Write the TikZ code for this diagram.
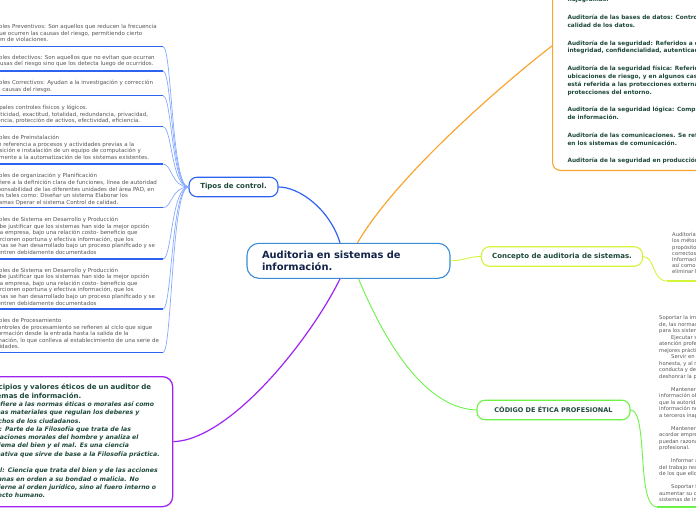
\documentclass[tikz,border=0pt]{standalone}
\usepackage{fontspec}
\setmainfont{DejaVu Sans}
\usepackage{xcolor}
\definecolor{inkgreen}{HTML}{1F4A3A}
\definecolor{inknavy}{HTML}{15244A}
\definecolor{inkgray}{HTML}{555555}
\definecolor{rootblue}{HTML}{3A8BD8}
\definecolor{ctrlblue}{HTML}{2E62F0}
\definecolor{twigblue}{HTML}{86A9FF}
\definecolor{auditorange}{HTML}{F8A531}
\definecolor{conceptlime}{HTML}{D2F53C}
\definecolor{ethicgreen}{HTML}{6DF248}
\definecolor{valuepurple}{HTML}{9F24F2}
\usepackage{tikz}
\usetikzlibrary{positioning, calc}

\begin{document}
\begin{tikzpicture}[
        x=1pt, y=-1pt,
        root/.style={rectangle, rounded corners=12pt, draw=rootblue, line width=1.1pt, fill=white, text width=173pt, inner xsep=15pt, minimum height=35pt, align=left, text=inknavy, font=\fontsize{9.9}{12.3}\selectfont\bfseries},
        topic/.style={rectangle, rounded corners=8pt, line width=1.1pt, fill=white, minimum height=19.5pt, inner sep=0pt, text=inkgreen, font=\fontsize{7}{8}\selectfont\bfseries},
        note/.style={anchor=north west, inner sep=0pt, align=left, text=inkgray, font=\fontsize{5.5}{6.6}\selectfont},
        branch/.style={line width=1.2pt},
        twig/.style={line width=0.7pt},
        underline/.style={line width=1.4pt}
    ]
    \useasboundingbox (0,0) rectangle (696,520);
    \clip (0,0) rectangle (696,520);

    % main topics
    \node [root] (root) at (348.5,260.8) {Auditoria en sistemas de\\información.};
    \node [topic, draw=ctrlblue, minimum width=89pt] (tipos) at (233.5,187) {Tipos de control.};
    \node [topic, draw=conceptlime, minimum width=161pt] (concepto) at (562,256.5) {Concepto de auditoria de sistemas.};
    \node [topic, draw=ethicgreen, minimum width=153pt, font=\fontsize{6.5}{8}\selectfont\bfseries] (codigo) at (553.5,410) {CÓDIGO DE ÉTICA PROFESIONAL};

    \node [rectangle, rounded corners=8pt, draw=auditorange, line width=1.1pt, fill=white, anchor=south west, align=left, inner xsep=15pt, inner ysep=6.5pt, text=inkgreen, font=\fontsize{5.8}{7.85}\selectfont\bfseries] (audits) at (552,171) {flujogramas.\\[9.8pt]
        Auditoría de las bases de datos: Controles de acceso, de actualización, de integridad y\\
        calidad de los datos.\\[9.8pt]
        Auditoría de la seguridad: Referidos a datos e información verificando disponibilidad,\\
        integridad, confidencialidad, autenticación y no repudio.\\[9.8pt]
        Auditoría de la seguridad física: Referido a la ubicación de la organización, evitando\\
        ubicaciones de riesgo, y en algunos casos no revelando la situación física de esta.\\
        está referida a las protecciones externas (arcos de seguridad, CCTV, vigilantes) y\\
        protecciones del entorno.\\[9.8pt]
        Auditoría de la seguridad lógica: Comprende los métodos de autenticación de los sistemas\\
        de información.\\[9.8pt]
        Auditoría de las comunicaciones. Se refiere a la auditoría de los procesos de autenticación\\
        en los sistemas de comunicación.\\[9.8pt]
        Auditoría de la seguridad en producción: Frente a errores, accidentes y fraudes.};

    \node [rectangle, rounded corners=10pt, draw=valuepurple, line width=1.3pt, fill=white, anchor=north east, text width=187pt, inner xsep=3pt, inner ysep=3pt, minimum height=130pt, align=left, text=inkgreen, font=\fontsize{6.15}{8.3}\selectfont\bfseries\itshape] (ethics) at (173.3,376) {{\fontsize{7}{8.3}\selectfont\upshape Principios y valores éticos de un auditor de}\\
        {\fontsize{7}{8.3}\selectfont\upshape sistemas de información.}\\
        Se refiere a las normas éticas o morales así como\\
        normas materiales que regulan los deberes y\\
        derechos de los ciudadanos.\\
        Ética: Parte de la Filosofía que trata de las\\
        obligaciones morales del hombre y analiza el\\
        problema del bien y el mal. Es una ciencia\\
        normativa que sirve de base a la Filosofía práctica.\\[8.3pt]
        Moral: Ciencia que trata del bien y de las acciones\\
        humanas en orden a su bondad o malicia. No\\
        concierne al orden jurídico, sino al fuero interno o\\
        respecto humano.};

    % tipos de control
    \node [note] (preventivos) at (-16,24.2) {Controles Preventivos: Son aquellos que reducen la frecuencia\\con que ocurren las causas del riesgo, permitiendo cierto\\margen de violaciones.};
    \node [note] (detectivos) at (-16,54.8) {Controles detectivos: Son aquellos que no evitan que ocurran\\las causas del riesgo sino que los detecta luego de ocurridos.};
    \node [note] (correctivos) at (-16,79.8) {Controles Correctivos: Ayudan a la investigación y corrección\\de las causas del riesgo.};
    \node [note] (fisicos) at (-16,104.8) {Principales controles físicos y lógicos.\\Autenticidad, exactitud, totalidad, redundancia, privacidad,\\Existencia, protección de activos, efectividad, eficiencia.};
    \node [note] (preinst) at (-16,134.8) {Controles de Preinstalación\\Hacen referencia a procesos y actividades previas a la\\adquisición e instalación de un equipo de computación y\\obviamente a la automatización de los sistemas existentes.};
    \node [note] (organiz) at (-16,173.2) {Controles de organización y Planificación\\Se refiere a la definición clara de funciones, línea de autoridad\\y responsabilidad de las diferentes unidades del área PAD, en\\labores tales como: Diseñar un sistema Elaborar los\\programas Operar el sistema Control de calidad.};
    \node [note] (desarrollo) at (-16,216.8) {Controles de Sistema en Desarrollo y Producción\\Se debe justificar que los sistemas han sido la mejor opción\\para la empresa, bajo una relación costo- beneficio que\\proporcionen oportuna y efectiva información, que los\\sistemas se han desarrollado bajo un proceso planificado y se\\encuentren debidamente documentados};
    \node [note] (produccion) at (-16,267.5) {Controles de Sistema en Desarrollo y Producción\\Se debe justificar que los sistemas han sido la mejor opción\\para la empresa, bajo una relación costo- beneficio que\\proporcionen oportuna y efectiva información, que los\\sistemas se han desarrollado bajo un proceso planificado y se\\encuentren debidamente documentados};
    \node [note] (procesam) at (-16,318.2) {Controles de Procesamiento\\Los controles de procesamiento se refieren al ciclo que sigue\\la información desde la entrada hasta la salida de la\\información, lo que conlleva al establecimiento de una serie de\\seguridades.};

    \foreach \y [count=\i] in {46.7, 71, 95.7, 126.7, 164, 207.7, 259, 309, 352.7} {
        \coordinate (k\i) at (163,\y);
        \draw [underline, ctrlblue] (k\i) -- ++(-170,0);
        \draw [twig, twigblue] (tipos.west) .. controls ($(tipos.west)+(-17,0)$) and ($(k\i)+(9,0)$) .. (k\i);
    }

    % concepto
    \node [note, font=\fontsize{5.2}{6.1}\selectfont] (definicion) at (672,232.5) {Auditoría de sistemas: es la revisión y evaluación de\\los métodos y procedimientos de uso de la tecnología, con el\\propósito de verificar si son eficientes, seguros y\\correctos, y que aseguren la integridad de la\\Información y de los recursos informáticos,\\así como proponer mejoras y acciones para\\eliminar los riesgos detectados.};
    \coordinate (defjoin) at (667,281);
    \draw [twig, conceptlime, line width=0.9pt] (concepto.east) .. controls +(12,0) and +(-15,0) .. (defjoin);
    \draw [underline, conceptlime] (defjoin) -- ++(40,0);

    % codigo de etica
    \node [note, font=\fontsize{5.2}{6.5}\selectfont] (normas) at (659,315.5) {Soportar la implementación y fomentar el cumplimiento\\de, las normas, procedimientos y controles apropiados\\para los sistemas de información.\\
        \hspace*{12pt}Ejecutar sus tareas con la debida diligencia y\\atención profesional, de acuerdo con las normas y\\mejores prácticas profesionales.\\
        \hspace*{12pt}Servir en interés de los involucrados de forma legal y\\honesta, y al mismo tiempo mantener altos estándares de\\conducta y de carácter, sin realizar actos que puedan\\deshonrar la profesión.\\[6.5pt]
        \hspace*{12pt}Mantener la privacidad y confidencialidad de la\\información obtenida en el curso de sus funciones, a menos\\que la autoridad legal requiera su divulgación. Dicha\\información no será usada para beneficio personal ni revelada\\a terceros inapropiados.\\[6.5pt]
        \hspace*{12pt}Mantener la competencia en sus respectivos campos y\\acordar emprender sólo aquellas actividades que\\puedan razonablemente completar con competencia\\profesional.\\[6.5pt]
        \hspace*{12pt}Informar a las partes apropiadas sobre los resultados\\del trabajo realizado, revelando todos los hechos\\de los que ellos tengan conocimiento.\\[6.5pt]
        \hspace*{12pt}Soportar la educación profesional de los involucrados para\\aumentar su comprensión de la seguridad y control de los\\sistemas de información.};
    \coordinate (codejoin) at (657,507);
    \draw [twig, ethicgreen, line width=0.9pt] (codigo.east) .. controls +(18,0) and +(-21,0) .. (codejoin);
    \draw [underline, ethicgreen] (codejoin) -- ++(45,0);

    % branches from the root
    \path (audits.south west) ++(0,-125) coordinate (audjoin);
    \draw [branch, ctrlblue] ($(root.north)+(-8.5,0)$) .. controls (330,210) and (300,187) .. (tipos.east);
    \draw [branch, auditorange] ($(root.north)+(9,0)$) .. controls (400,170) and (520,70) .. (audjoin);
    \draw [twig, conceptlime, line width=0.9pt] (root.east) to[out=0, in=180] (concepto.west);
    \draw [branch, valuepurple] ($(root.south)+(-8.5,0)$) .. controls (310,340) and (230,440) .. (ethics.east);
    \draw [twig, ethicgreen, line width=0.9pt] ($(root.south)+(10,0)$) .. controls (380,330) and (420,408) .. (codigo.west);
\end{tikzpicture}
\end{document}
